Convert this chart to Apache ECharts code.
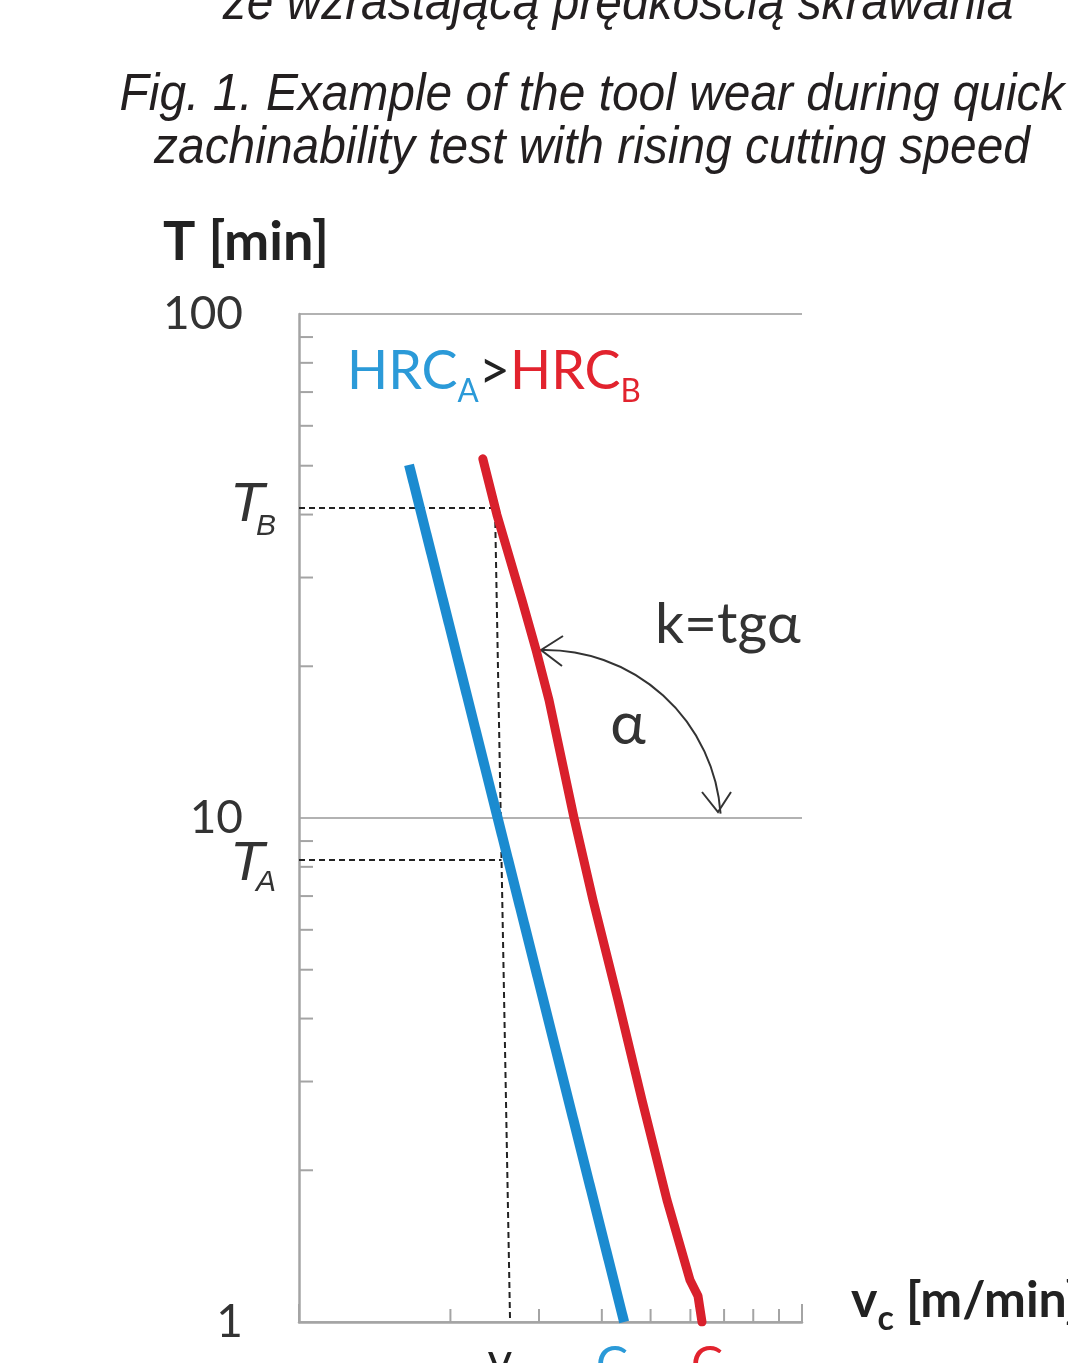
<!DOCTYPE html>
<html><head><meta charset="utf-8">
<script src="https://cdn.jsdelivr.net/npm/echarts@6/dist/echarts.min.js"></script>
<style>html,body{margin:0;padding:0;background:#fff;}#c{width:1068px;height:1363px;}</style>
</head><body><div id="c"></div>
<script>
// ---- text ----
const captionLines = ['ze wzrastającą prędkością skrawania',
  'Fig. 1. Example of the tool wear during quick',
  'zachinability test with rising cutting speed'];
const yAxisName = 'T [min]';
const yTickLabels = {1: '1', 10: '10', 100: '100'};
// ---- axis ranges / minor ticks (log scale) ----
const vMin = 10, vMax = 100;
const tMin = 1, tMax = 100;
const xMinorTicks = [20, 30, 40, 50, 60, 70, 80, 90];
const yMinorTicks = [2, 3, 4, 5, 6, 7, 8, 9, 20, 30, 40, 50, 60, 70, 80, 90];
// ---- series: tool life T vs cutting speed vc ----
const hrcA_v = [16.55, 44.3];
const hrcA_T = [50.2, 1];
const hrcB_v = [23.2, 24.75, 27.75, 29.6, 31.41, 35.22, 38.41, 43.07, 48.07, 53.89, 59.88, 62.12, 63.27];
const hrcB_T = [51.6, 39.93, 27.07, 21.54, 17.14, 10, 6.877, 4.353, 2.757, 1.746, 1.211, 1.126, 1];
// ---- reading guides ----
const TB = 41.2, TA = 8.25;
const guideB_v = [10, 24.53, 26.28];
const guideB_T = [TB, TB, 1];
const guideA_v = [10, 25.27];
const guideA_T = [TA, TA];

const chart = echarts.init(document.getElementById('c'), null, {renderer: 'canvas'});
const AX = '#a4a4a4';
const pairs = (xs, ys) => xs.map((v, i) => [v, ys[i]]);

chart.setOption({
  backgroundColor: '#fff',
  animation: false,
  grid: {left: 299, top: 314, width: 503, height: 1008, containLabel: false, outerBoundsMode: 'none'},
  xAxis: {
    type: 'log', logBase: 10, min: vMin, max: vMax,
    axisLine: {show: true, lineStyle: {color: AX, width: 2.5}},
    axisTick: {show: true, inside: true, length: 18, lineStyle: {color: AX, width: 2}},
    axisLabel: {show: false},
    splitLine: {show: false}, minorTick: {show: false}
  },
  yAxis: {
    type: 'log', logBase: 10, min: tMin, max: tMax,
    axisLine: {show: true, lineStyle: {color: AX, width: 2.5}},
    axisTick: {show: false},
    axisLabel: {show: true, margin: 56, fontSize: 46, fontFamily: 'Lato', color: '#333',
      formatter: v => yTickLabels[Math.round(v)] || ''},
    splitLine: {show: true, lineStyle: {color: '#b2b2b2', width: 2}},
    minorTick: {show: false}
  },
  series: [
    {type: 'custom', coordinateSystem: 'cartesian2d', silent: true, z: 1,
      data: xMinorTicks.map(v => [v, tMin]),
      renderItem: (p, api) => {
        const c = api.coord([api.value(0), api.value(1)]);
        return {type: 'line', shape: {x1: c[0], y1: c[1], x2: c[0], y2: c[1] - 13},
          style: {stroke: AX, lineWidth: 2}};
      }},
    {type: 'custom', coordinateSystem: 'cartesian2d', silent: true, z: 1,
      data: yMinorTicks.map(v => [vMin, v]),
      renderItem: (p, api) => {
        const c = api.coord([api.value(0), api.value(1)]);
        return {type: 'line', shape: {x1: c[0], y1: c[1], x2: c[0] + 14, y2: c[1]},
          style: {stroke: AX, lineWidth: 2}};
      }},
    {type: 'line', data: pairs(guideB_v, guideB_T), showSymbol: false, z: 2,
      lineStyle: {color: '#222', width: 2, type: [6, 4]}},
    {type: 'line', data: pairs(guideA_v, guideA_T), showSymbol: false, z: 2,
      lineStyle: {color: '#222', width: 2, type: [6, 4]}},
    {type: 'line', data: pairs(hrcA_v, hrcA_T), showSymbol: false, z: 3,
      lineStyle: {color: '#1b8bd0', width: 10, cap: 'butt'}},
    {type: 'line', data: pairs(hrcB_v, hrcB_T), showSymbol: false, z: 3,
      lineStyle: {color: '#d9202c', width: 9, cap: 'round', join: 'round'}}
  ]
});

const tbY = chart.convertToPixel({gridIndex: 0}, [vMin, TB])[1];
const taY = chart.convertToPixel({gridIndex: 0}, [vMin, TA])[1];
const axisBottom = chart.convertToPixel({gridIndex: 0}, [vMin, tMin])[1];

function cap(text, x, y) {
  return {type: 'text', x: x, y: y, scaleX: 0.921,
    style: {text: text, fontFamily: 'Liberation Sans', fontStyle: 'italic', fontSize: 52,
      fill: '#231f20', align: 'center', verticalAlign: 'middle'}};
}
function tLabel(sub, yT, ySub) {
  return [
    {type: 'text', x: 247, y: yT,
      style: {text: 'T', fontFamily: 'Liberation Sans', fontStyle: 'italic', fontSize: 56, fill: '#333',
        align: 'center', verticalAlign: 'middle'}},
    {type: 'text', x: 266, y: ySub,
      style: {text: sub, fontFamily: 'Liberation Sans', fontStyle: 'italic', fontSize: 30, fill: '#333',
        align: 'center', verticalAlign: 'middle'}}
  ];
}

chart.setOption({
  graphic: [
    cap(captionLines[0], 618, 5),
    cap(captionLines[1], 592, 96),
    cap(captionLines[2], 592, 149),
    {type: 'text', x: 163, y: 243,
      style: {text: yAxisName, fontFamily: 'Lato', fontWeight: 'bold', fontSize: 54, fill: '#222',
        align: 'left', verticalAlign: 'middle'}},
    {type: 'text', x: 347, y: 371, scaleX: 0.98,
      style: {text: '{a|HRC}{sa|A}{g|>}{b|HRC}{sb|B}', align: 'left', verticalAlign: 'middle',
        rich: {
          a: {fontFamily: 'Lato', fontSize: 55, fill: '#2b9ad8', lineHeight: 74, verticalAlign: 'middle'},
          sa: {fontFamily: 'Lato', fontSize: 32, fill: '#2b9ad8', lineHeight: 34, verticalAlign: 'bottom'},
          g: {fontFamily: 'Lato', fontSize: 55, fill: '#222', lineHeight: 74, verticalAlign: 'middle'},
          b: {fontFamily: 'Lato', fontSize: 55, fill: '#e2232e', lineHeight: 74, verticalAlign: 'middle'},
          sb: {fontFamily: 'Lato', fontSize: 32, fill: '#e2232e', lineHeight: 34, verticalAlign: 'bottom'}
        }}},
    {type: 'text', x: 655, y: 625,
      style: {text: 'k=tgα', fontFamily: 'Lato', fontSize: 57, fill: '#333', align: 'left', verticalAlign: 'middle'}},
    {type: 'text', x: 628, y: 725,
      style: {text: 'α', fontFamily: 'Lato', fontSize: 60, fill: '#333', align: 'center', verticalAlign: 'middle'}},
    {type: 'arc', shape: {cx: 545, cy: 826, r: 176, startAngle: -1.599, endAngle: -0.07, clockwise: true},
      style: {stroke: '#333', lineWidth: 2, fill: null}},
    {type: 'polyline', shape: {points: [[563, 636], [541, 650], [562, 666]]},
      style: {stroke: '#333', lineWidth: 2, fill: null}},
    {type: 'polyline', shape: {points: [[702, 792], [718, 812], [731, 792]]},
      style: {stroke: '#333', lineWidth: 2, fill: null}},
    ...tLabel('B', tbY - 3, tbY + 19),
    ...tLabel('A', taY + 4, taY + 23),
    {type: 'text', x: 851, y: axisBottom - 21,
      style: {text: '{v|v}{c|c}{r| [m/min]}', align: 'left', verticalAlign: 'middle',
        rich: {
          v: {fontFamily: 'Lato', fontWeight: 'bold', fontSize: 50, fill: '#222', lineHeight: 70, verticalAlign: 'middle'},
          c: {fontFamily: 'Lato', fontWeight: 'bold', fontSize: 34, fill: '#222', lineHeight: 34, verticalAlign: 'bottom'},
          r: {fontFamily: 'Lato', fontWeight: 'bold', fontSize: 50, fill: '#222', lineHeight: 70, verticalAlign: 'middle'}
        }}},
    {type: 'text', x: 500, y: 1362,
      style: {text: 'v', fontFamily: 'Lato', fontSize: 48, fill: '#222', align: 'center', verticalAlign: 'middle'}},
    {type: 'text', x: 596, y: 1366,
      style: {text: 'C', fontFamily: 'Lato', fontSize: 48, fill: '#2b9ad8', align: 'left', verticalAlign: 'middle'}},
    {type: 'text', x: 691, y: 1366,
      style: {text: 'C', fontFamily: 'Lato', fontSize: 48, fill: '#e2232e', align: 'left', verticalAlign: 'middle'}}
  ]
});
</script>
</body></html>
